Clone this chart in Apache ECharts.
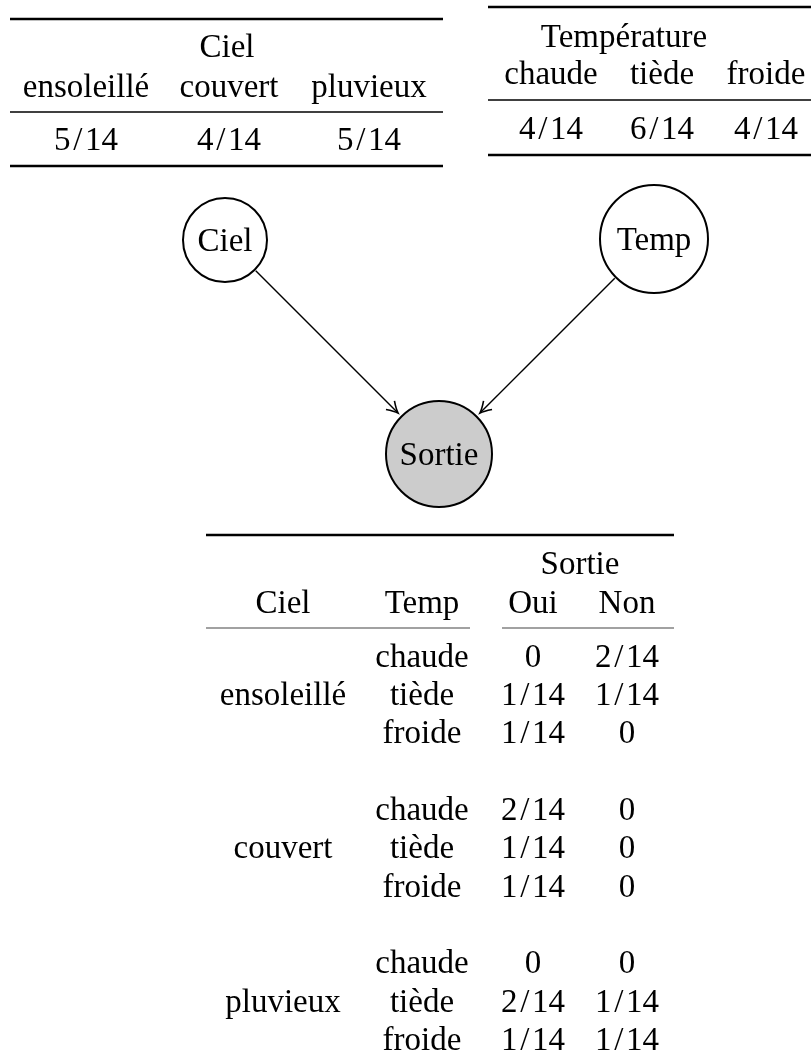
<!DOCTYPE html>
<html>
<head>
<meta charset="utf-8">
<title>Réseau bayésien Ciel / Temp / Sortie</title>
<script src="https://cdn.jsdelivr.net/npm/echarts@6/dist/echarts.min.js"></script>
<style>
html, body { margin: 0; padding: 0; background: #fff; }
#chart { width: 811px; height: 1064px; }
</style>
</head>
<body>
<div id="chart"></div>
<script>
// ---- data ----
var cielStates = ['ensoleillé', 'couvert', 'pluvieux'];
var cielProba = ['5/14', '4/14', '5/14'];
var tempStates = ['chaude', 'tiède', 'froide'];
var tempProba = ['4/14', '6/14', '4/14'];
var nodeNames = ['Ciel', 'Temp', 'Sortie'];
var edges = [['Ciel', 'Sortie'], ['Temp', 'Sortie']];
var sortieStates = ['Oui', 'Non'];
// one entry per (ciel, temp) pair, ciel major
var sortieOui = ['0', '1/14', '1/14', '2/14', '1/14', '1/14', '0', '2/14', '1/14'];
var sortieNon = ['2/14', '1/14', '0', '0', '0', '0', '0', '1/14', '1/14'];

// ---- layout ----
var W = 811, H = 1064;
var FONT = "'Liberation Serif', 'Times New Roman', serif";
var FS = 33;
var texts = [];   // [x, y, label]
var rules = [];   // [x1, y, x2, width, color]

function rule(x1, x2, y, w, c) { rules.push([x1, y, x2, w, c || '#000']); }
// fractions get a little air round the slash, as in math mode
function txt(x, y, s) { texts.push([x, y, s.replace('/', '\u200A/\u200A')]); }

// P(Ciel)
var tl = { x1: 10, x2: 443, cols: [86, 229, 369] };
rule(tl.x1, tl.x2, 19, 2.5);
txt(227, 48.5, 'Ciel');
cielStates.forEach(function (s, i) { txt(tl.cols[i], 88, s); });
rule(tl.x1, tl.x2, 112, 1.5);
cielProba.forEach(function (s, i) { txt(tl.cols[i], 141.5, s); });
rule(tl.x1, tl.x2, 166, 2.5);

// P(Temp)
var tr = { x1: 488, x2: 820, cols: [551, 662, 766] };
rule(tr.x1, tr.x2, 7, 2.5);
txt(624, 38, 'Température');
tempStates.forEach(function (s, i) { txt(tr.cols[i], 75, s); });
rule(tr.x1, tr.x2, 100, 1.5);
tempProba.forEach(function (s, i) { txt(tr.cols[i], 130, s); });
rule(tr.x1, tr.x2, 155, 2.5);

// P(Ciel, Temp, Sortie)
var bt = { x1: 206, x2: 674, cols: [283, 422, 533, 627], row0: 658, step: 38.35 };
rule(bt.x1, bt.x2, 535, 2.5);
txt(580, 565.5, 'Sortie');
txt(bt.cols[0], 604, 'Ciel');
txt(bt.cols[1], 604, 'Temp');
sortieStates.forEach(function (s, i) { txt(bt.cols[2 + i], 604, s); });
rule(206, 470, 628, 1.2, '#444');
rule(502, 674, 628, 1.2, '#444');
cielStates.forEach(function (c, g) {
    txt(bt.cols[0], bt.row0 + (4 * g + 1) * bt.step, c);
    tempStates.forEach(function (t, r) {
        var y = bt.row0 + (4 * g + r) * bt.step;
        var k = g * 3 + r;
        txt(bt.cols[1], y, t);
        txt(bt.cols[2], y, sortieOui[k]);
        txt(bt.cols[3], y, sortieNon[k]);
    });
});

// network nodes
var nodeLayout = {
    Ciel:   { x: 225, y: 240, d: 84, fill: '#fff' },
    Temp:   { x: 654, y: 239, d: 108, fill: '#fff' },
    Sortie: { x: 439, y: 454, d: 106, fill: '#cccccc' }
};

var chart = echarts.init(document.getElementById('chart'));
chart.setOption({
    animation: false,
    backgroundColor: '#fff',
    grid: { left: 0, right: 0, top: 0, bottom: 0 },
    xAxis: { type: 'value', min: 0, max: W, show: false },
    yAxis: { type: 'value', min: 0, max: H, inverse: true, show: false },
    series: [
        {
            // table rules
            type: 'custom',
            silent: true,
            data: rules.map(function (r) { return [r[0], r[1], r[2]]; }),
            renderItem: function (params, api) {
                var r = rules[params.dataIndex];
                var a = api.coord([r[0], r[1]]);
                var b = api.coord([r[2], r[1]]);
                return {
                    type: 'line',
                    shape: { x1: a[0], y1: a[1], x2: b[0], y2: b[1] },
                    style: { stroke: r[4], lineWidth: r[3] }
                };
            }
        },
        {
            // arrows between nodes
            type: 'custom',
            silent: true,
            data: edges.map(function (e, i) { return [i, i]; }),
            renderItem: function (params, api) {
                var e = edges[params.dataIndex];
                var a = nodeLayout[e[0]], b = nodeLayout[e[1]];
                var pa = api.coord([a.x, a.y]), pb = api.coord([b.x, b.y]);
                var dx = pb[0] - pa[0], dy = pb[1] - pa[1];
                var len = Math.sqrt(dx * dx + dy * dy);
                var ux = dx / len, uy = dy / len, px = -uy, py = ux;
                var s = [pa[0] + ux * (a.d / 2 + 1.5), pa[1] + uy * (a.d / 2 + 1.5)];
                var t = [pb[0] - ux * (b.d / 2 + 5), pb[1] - uy * (b.d / 2 + 5)];
                var hl = 11, hw = 6;
                var bx = t[0] - ux * hl, by = t[1] - uy * hl;
                var b1 = [bx + px * hw, by + py * hw];
                var b2 = [bx - px * hw, by - py * hw];
                var c1 = [t[0] - ux * 4 + px * 1.3, t[1] - uy * 4 + py * 1.3];
                var c2 = [t[0] - ux * 4 - px * 1.3, t[1] - uy * 4 - py * 1.3];
                return {
                    type: 'group',
                    children: [
                        {
                            type: 'line',
                            shape: { x1: s[0], y1: s[1], x2: t[0] - ux, y2: t[1] - uy },
                            style: { stroke: '#000', lineWidth: 1.4 }
                        },
                        {
                            type: 'path',
                            shape: {
                                pathData: 'M' + b1[0] + ' ' + b1[1] + ' Q' + c1[0] + ' ' + c1[1] + ' ' + t[0] + ' ' + t[1] +
                                    ' Q' + c2[0] + ' ' + c2[1] + ' ' + b2[0] + ' ' + b2[1]
                            },
                            style: { stroke: '#000', fill: null, lineWidth: 1.6 }
                        }
                    ]
                };
            }
        },
        {
            type: 'graph',
            coordinateSystem: 'cartesian2d',
            xAxisIndex: 0,
            yAxisIndex: 0,
            silent: true,
            symbol: 'circle',
            data: nodeNames.map(function (n) {
                var l = nodeLayout[n];
                return {
                    name: n,
                    value: [l.x, l.y],
                    symbolSize: l.d,
                    itemStyle: { color: l.fill, borderColor: '#000', borderWidth: 2 }
                };
            }),
            links: [],
            label: {
                show: true,
                position: 'inside',
                offset: [0, 2],
                formatter: '{b}',
                color: '#000',
                fontFamily: FONT,
                fontSize: FS
            }
        },
        {
            // table text
            type: 'custom',
            silent: true,
            data: texts.map(function (t) { return [t[0], t[1]]; }),
            renderItem: function (params, api) {
                var t = texts[params.dataIndex];
                var p = api.coord([t[0], t[1]]);
                return {
                    type: 'text',
                    x: p[0],
                    y: p[1],
                    style: {
                        text: t[2],
                        fill: '#000',
                        fontFamily: FONT,
                        fontSize: FS,
                        align: 'center',
                        verticalAlign: 'middle'
                    }
                };
            }
        }
    ]
});
</script>
</body>
</html>
